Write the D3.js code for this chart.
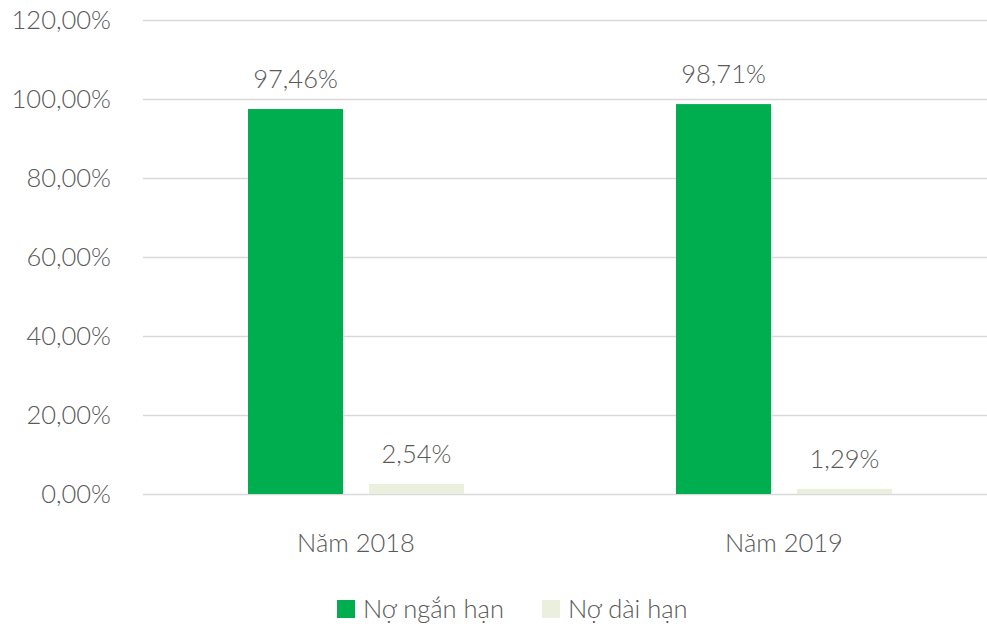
<!DOCTYPE html>
<html>
<head>
<meta charset="utf-8">
<style>
  body { margin: 0; background: #fff; }
  text { font-family: "Lato", "Open Sans", sans-serif; fill: #595959; font-weight: 300; }
</style>
</head>
<body>
<svg id="chart" width="987" height="626" viewBox="0 0 987 626" xmlns="http://www.w3.org/2000/svg"></svg>
<script src="https://d3js.org/d3.v7.min.js"></script>
<script>
const categories = ["Năm 2018", "Năm 2019"];
const seriesNames = ["Nợ ngắn hạn", "Nợ dài hạn"];
const shortTerm = [97.46, 98.71];
const longTerm = [2.54, 1.29];
const yTicks = [0, 20, 40, 60, 80, 100, 120];
const colors = ["#00ae4f", "#ebf0de"];

const svg = d3.select("#chart");
const plot = { left: 142, right: 998, top: 20, bottom: 494 };

const x0 = d3.scaleBand()
  .domain(categories)
  .range([plot.left, plot.right])
  .paddingInner(0)
  .paddingOuter(0);

// group of two bars: 95px wide each with 26px gap, inside a 428px band
const x1 = d3.scaleBand()
  .domain(seriesNames)
  .range([x0.bandwidth() / 2 - 108, x0.bandwidth() / 2 + 108])
  .paddingInner(0.215);

const y = d3.scaleLinear()
  .domain([0, 120])
  .range([plot.bottom, plot.top]);

// gridlines
svg.append("g")
  .selectAll("line")
  .data(yTicks)
  .join("line")
  .attr("x1", 143)
  .attr("x2", 987)
  .attr("y1", d => Math.round(y(d)) + 0.5)
  .attr("y2", d => Math.round(y(d)) + 0.5)
  .attr("stroke", "#d9d9d9")
  .attr("stroke-width", 1.5);

// y tick labels
const fmt = d => d.toFixed(2).replace(".", ",") + "%";
svg.append("g")
  .selectAll("text")
  .data(yTicks)
  .join("text")
  .attr("x", 111)
  .attr("y", d => y(d) + 9)
  .attr("text-anchor", "end")
  .attr("font-size", "25.5px")
  .text(fmt);

// bars
const series = [shortTerm, longTerm];
const groups = svg.append("g")
  .selectAll("g")
  .data(categories)
  .join("g")
  .attr("transform", d => `translate(${x0(d)},0)`);

groups.selectAll("rect")
  .data((d, i) => seriesNames.map((s, j) => ({ s, v: series[j][i], j })))
  .join("rect")
  .attr("x", d => x1(d.s))
  .attr("width", x1.bandwidth())
  .attr("y", d => y(d.v))
  .attr("height", d => y(0) - y(d.v))
  .attr("fill", d => colors[d.j]);

// value labels
groups.selectAll("text.val")
  .data((d, i) => seriesNames.map((s, j) => ({ s, v: series[j][i], j })))
  .join("text")
  .attr("class", "val")
  .attr("x", d => x1(d.s) + x1.bandwidth() / 2)
  .attr("y", d => y(d.v) - 21)
  .attr("text-anchor", "middle")
  .attr("font-size", "25.5px")
  .text(d => d.v.toFixed(2).replace(".", ",") + "%");

// category labels
svg.append("g")
  .selectAll("text")
  .data(categories)
  .join("text")
  .attr("x", d => x0(d) + x0.bandwidth() / 2)
  .attr("y", 552)
  .attr("text-anchor", "middle")
  .attr("font-size", "25.5px")
  .text(d => d);

// legend
const legendX = [337, 542];
const legend = svg.append("g")
  .selectAll("g")
  .data(seriesNames)
  .join("g")
  .attr("transform", (d, i) => `translate(${legendX[i]},600)`);

legend.append("rect")
  .attr("width", 18)
  .attr("height", 18)
  .attr("fill", (d, i) => colors[i]);

legend.append("text")
  .attr("x", 26)
  .attr("y", 18)
  .attr("font-size", "25.5px")
  .text(d => d);
</script>
</body>
</html>
